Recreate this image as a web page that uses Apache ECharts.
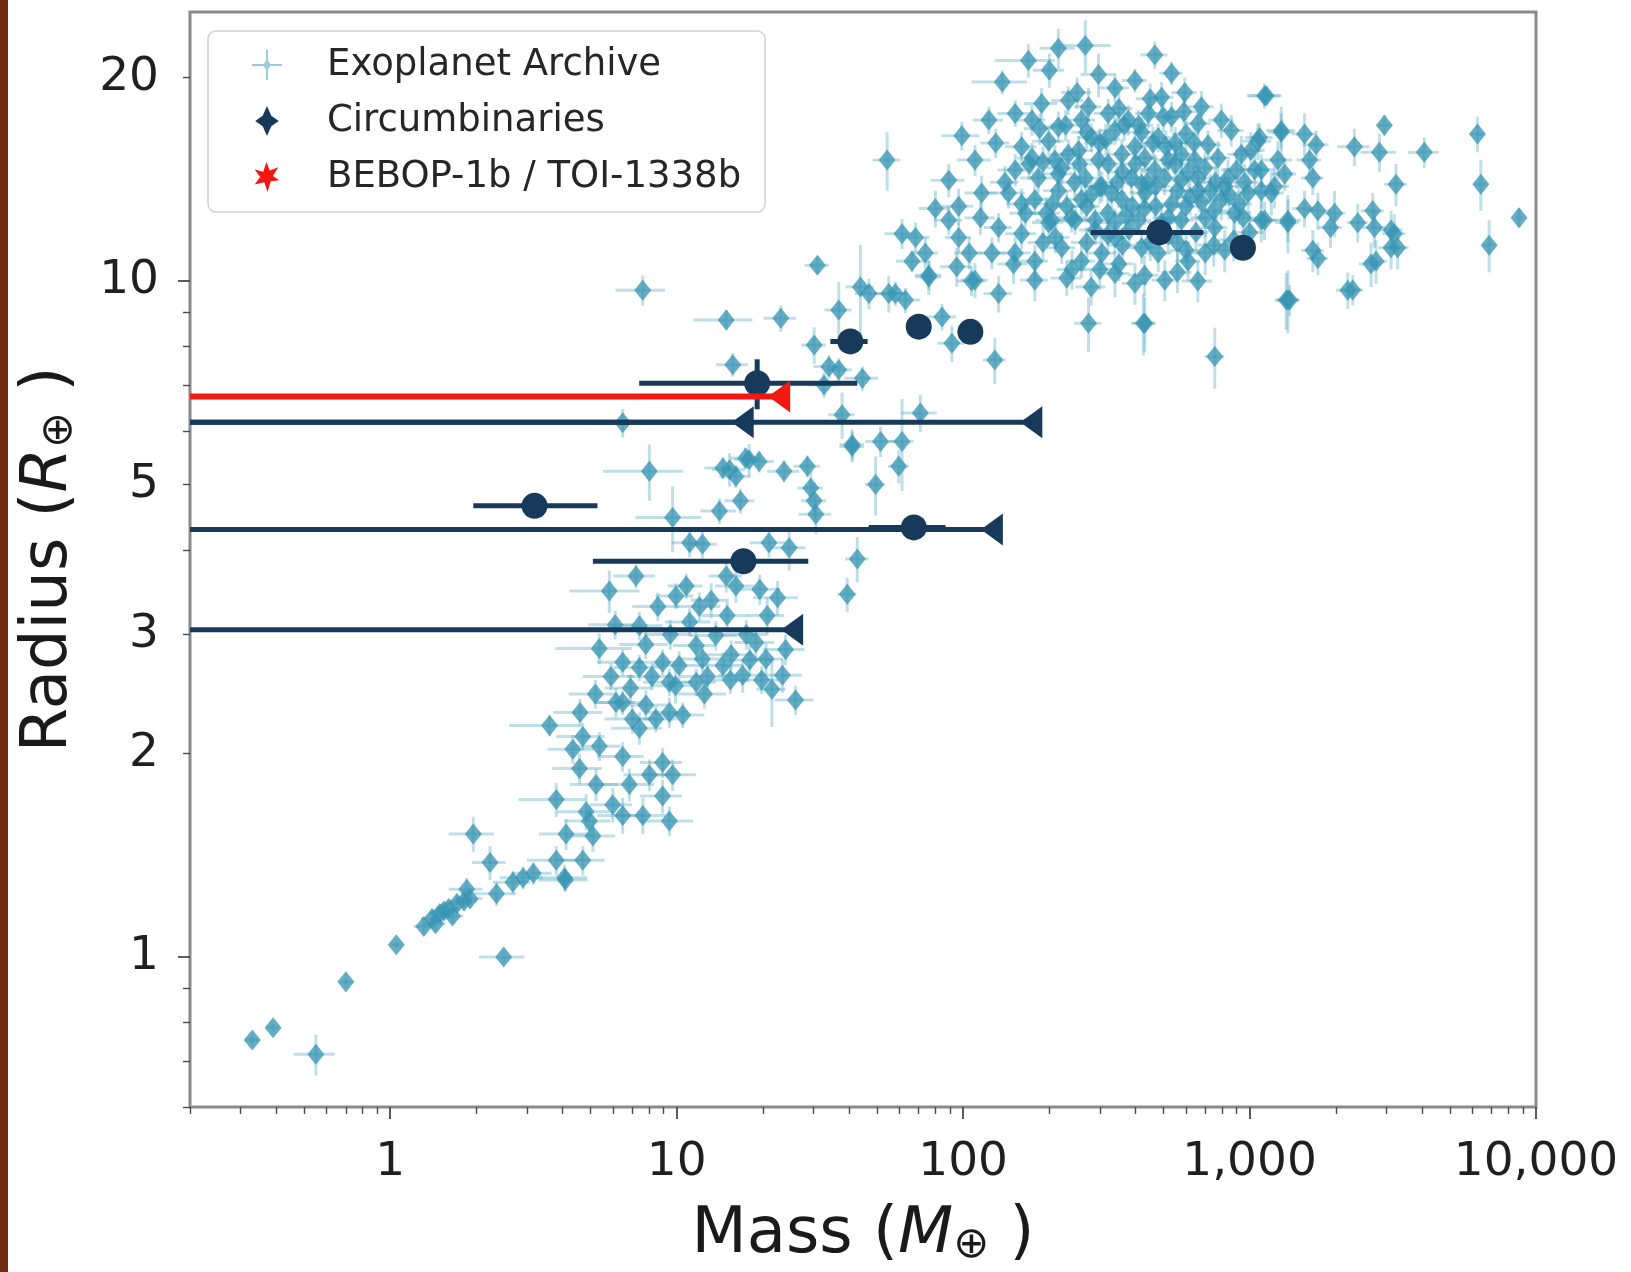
<!DOCTYPE html>
<html><head><meta charset="utf-8">
<script src="https://cdn.jsdelivr.net/npm/echarts@6/dist/echarts.min.js"></script>
<style>
html,body{margin:0;padding:0;background:#fff;}
#chart{position:absolute;left:0;top:0;width:1631px;height:1272px;}
#strip{position:absolute;left:0;top:0;width:8px;height:1272px;background:#6f2a10;}
</style>
</head><body><div id="chart"></div><div id="strip"></div>
<script>
// ---- axis ticks / labels ----
const xLabelTicks = [1, 10, 100, 1000, 10000];
const xMinorTicks = [0.2,0.3,0.4,0.5,0.6,0.7,0.8,0.9, 2,3,4,5,6,7,8,9, 20,30,40,50,60,70,80,90, 200,300,400,500,600,700,800,900, 2000,3000,4000,5000,6000,7000,8000,9000];
const yLabelTicks = [1, 2, 3, 5, 10, 20];
const yMajorTicks = [1, 10];
const yMinorTicks = [0.6,0.7,0.8,0.9, 2,3,4,5,6,7,8,9, 20];

// ---- Exoplanet Archive: [mass, radius, massErr, radiusErr] ----
const exoSmall = [
 [0.33,0.754,0.02,0.01],[0.39,0.786,0.02,0.01],[0.55,0.718,0.09,0.05],[0.70,0.919,0.03,0.01],
 [1.05,1.043,0.04,0.01],[2.49,1.00,0.45,0.02],[1.31,1.11,0.10,0.03],[1.40,1.14,0.12,0.03],
 [1.49,1.16,0.12,0.03],[1.60,1.18,0.15,0.03],[1.71,1.20,0.15,0.04],[1.81,1.21,0.2,0.04],
 [1.65,1.15,0.15,0.03],[1.44,1.12,0.12,0.03],[1.90,1.22,0.2,0.04],[1.54,1.17,0.15,0.03],
 [1.85,1.26,0.25,0.05],[2.35,1.24,0.4,0.05],[1.95,1.52,0.35,0.09],[2.23,1.38,0.3,0.08],
 [2.91,1.31,0.5,0.05],[2.68,1.29,0.4,0.05],[3.16,1.33,0.5,0.05],[4.09,1.30,0.8,0.05],
 [3.60,2.20,1.0,0.08],[4.70,2.12,0.9,0.1],[4.34,2.03,0.8,0.1],[5.37,2.05,1.0,0.1],
 [6.48,1.98,1.2,0.1],[4.58,1.90,0.9,0.1],[5.23,1.80,1.0,0.1],[6.84,1.80,1.5,0.1],
 [8.93,1.94,1.5,0.1],[8.03,1.86,1.5,0.1],[9.68,1.86,2.0,0.1],[8.93,1.73,1.5,0.1],
 [3.80,1.71,1.0,0.1],[4.83,1.64,1.0,0.1],[4.96,1.59,0.9,0.08],[5.98,1.68,1.0,0.1],
 [6.48,1.62,1.2,0.1],[7.62,1.62,1.5,0.1],[9.43,1.59,2.0,0.08],[4.11,1.52,0.8,0.08],
 [5.10,1.51,1.0,0.08],[3.80,1.39,0.8,0.07],[4.70,1.39,0.9,0.07],[4.06,1.31,0.8,0.06],
 [6.14,2.38,1.0,0.12],[7.81,2.36,1.5,0.12],[9.43,2.30,1.5,0.12],[7.41,2.18,1.5,0.12],
 [9.91,2.52,1.8,0.15],[21.5,2.49,2.5,0.3],[26.0,2.40,4.0,0.12],[15.4,2.57,2.5,0.12],
 [19.8,2.57,3.0,0.12]
];
const exoMid = [
 [8.03,5.23,2.5,0.5],[14.5,5.29,2.0,0.2],[16.1,5.14,2.0,0.2],[17.4,5.47,2.0,0.2],
 [19.4,5.41,2.5,0.2],[23.7,5.23,3.0,0.2],[28.6,5.32,3.0,0.2],[29.4,4.94,3.0,0.3],
 [30.2,4.73,3.0,0.3],[30.6,4.52,4.0,0.3],[41.0,5.73,4.0,0.3],[49.5,5.00,4.0,0.5],
 [16.7,4.73,2.0,0.2],[14.1,4.57,2.0,0.2],[9.68,4.47,2.5,0.5],[11.1,4.10,1.5,0.2],
 [12.3,4.08,1.5,0.2],[21.0,4.10,3.0,0.2],[24.7,4.03,3.5,0.3],[42.7,3.88,4.0,0.3],
 [39.4,3.44,3.0,0.2],[7.21,3.66,1.2,0.15],[5.82,3.48,1.6,0.25],[9.94,3.42,1.5,0.15],
 [10.8,3.54,1.5,0.15],[13.2,3.37,2.0,0.2],[14.9,3.66,2.0,0.2],[16.1,3.54,2.5,0.2],
 [22.5,3.40,4.0,0.2],[20.7,3.20,3.0,0.2],[7.41,3.09,1.5,0.15],[11.1,3.13,2.0,0.15],
 [13.7,2.99,2.5,0.15],[18.9,2.92,3.0,0.15],[5.37,2.86,1.6,0.15],[6.48,2.73,1.2,0.12],
 [7.41,2.68,1.4,0.12],[8.93,2.73,1.6,0.12],[11.7,2.89,2.0,0.15],[12.3,2.76,2.0,0.12],
 [14.5,2.70,2.5,0.12],[17.0,2.61,3.0,0.15],[20.5,2.76,3.0,0.15],[23.4,2.61,4.0,0.15],
 [11.7,2.55,2.0,0.12],[9.43,2.55,1.8,0.12],[6.48,2.38,1.2,0.1],[8.46,2.25,1.6,0.1],
 [10.5,2.28,2.0,0.1],
 [5.9,2.6,1.2,0.12],[6.9,2.5,1.3,0.12],[8.2,2.6,1.5,0.12],[10.2,2.7,2.0,0.13],[12.8,2.6,2.5,0.13],
 [15.5,2.8,3.0,0.14],[18.0,2.75,3.5,0.14],[7.8,2.9,1.5,0.14],[9.5,3.0,1.8,0.15],[12.0,3.3,2.2,0.16],
 [15.0,3.2,2.8,0.16],[17.5,3.0,3.2,0.15],[8.6,3.3,1.6,0.16],[6.1,3.1,1.2,0.15],[19.5,3.5,3.5,0.18],
 [24.0,2.85,4.0,0.15],[5.2,2.45,1.0,0.12],[4.6,2.3,0.9,0.11],[7.0,2.25,1.4,0.11],[12.5,2.45,2.4,0.12],
 [7.61,9.69,1.5,0.5],[14.9,8.76,3.5,0.3],[23.1,8.81,3.0,0.4],[31.0,10.55,3.0,0.3],
 [36.8,9.06,4.0,0.9],[43.8,9.80,5.0,1.5],[46.9,9.58,5.0,0.5],[58.0,9.58,6.0,0.4],
 [62.9,9.37,8.0,0.4],[75.9,10.2,8.0,0.5],[107,10.0,12,0.5],[91.4,8.09,10,0.5],
 [129,7.64,12,0.6],[84.4,8.85,10,0.4],[66.3,10.7,8,0.4],[30.2,8.04,3,0.5],
 [15.7,7.52,2,0.3],[34.0,7.47,4,0.3],[36.8,7.39,4,0.3],[32.7,7.02,4,0.3],
 [44.5,7.18,6,0.3],[6.48,6.17,1.6,0.3],[37.8,6.34,4,0.5],[70.9,6.38,10,0.4],
 [41.0,5.69,4,0.3],[51.5,5.79,6,0.3],[61.2,5.79,6,0.9],[59.6,5.32,5,0.3],
 [15.3,5.26,2,0.3],[17.9,5.44,2,0.3]
];
const exoGiant = [
 [169,21.2,40,1.2],[215,22.1,30,1.5],[267,22.3,60,2.0],[467,21.6,50,1.0],[534,20.3,50,0.8],
 [1128,18.8,150,0.8],[137,19.7,30,0.8],[297,20.2,40,1.5],[99,16.4,15,0.8],[123,17.3,15,0.8],
 [54.3,15.1,6,1.5],[152,17.7,20,0.8],[188,18.3,25,1.0],[233,18.5,30,0.9],[274,18.1,30,1.2],
 [339,19.3,40,1.0],[398,19.8,40,0.8],[493,18.7,50,1.0],[594,19.0,60,1.0],[679,18.1,70,1.0],
 [160,15.8,20,0.8],[199,16.1,25,0.8],[233,15.4,30,0.8],[281,16.3,30,0.8],[339,16.7,40,0.8],
 [398,15.8,40,0.8],[480,16.3,50,0.8],[578,15.4,60,0.9],[716,15.9,80,0.8],[863,16.7,90,0.9],
 [1069,16.1,120,1.0],[1290,16.7,150,1.0],
 [152,14.6,20,0.8],[183,14.2,25,0.7],[221,14.7,25,0.8],[267,14.2,30,0.7],[321,14.9,35,0.8],
 [387,14.2,40,0.7],[467,14.6,50,0.8],[578,14.1,60,0.8],[698,14.7,70,0.8],[841,14.2,90,0.9],
 [1042,14.6,120,1.0],[1256,15.1,150,1.0],
 [144,13.5,20,0.7],[178,13.2,20,0.7],[215,13.6,25,0.7],[259,13.2,30,0.7],[305,13.8,35,0.7],
 [358,13.2,40,0.7],[431,13.5,50,0.7],[534,13.0,60,0.8],[661,13.6,70,0.8],[797,13.2,90,0.9],
 [988,13.5,110,1.0],[1223,13.8,150,1.0],
 [89.1,14.1,12,0.8],[96.5,12.9,12,0.8],[116,13.5,15,0.8],[110,15.1,15,0.8],
 [133,12.0,15,0.6],[160,11.75,20,0.6],[199,12.2,25,0.6],[246,12.3,30,0.6],[289,11.9,35,0.6],
 [339,11.6,40,0.6],[578,12.3,60,0.7],[756,12.0,80,0.8],[1361,12.3,150,0.9],[1191,13.5,130,1.0],
 [61.2,11.75,8,0.6],[68.2,11.6,8,0.6],[73.8,11.0,8,0.6],[89.1,12.3,10,0.6],[96.5,11.6,10,0.6],
 [105,11.0,12,0.6],[126,11.0,15,0.6],[152,11.0,20,0.6],[178,10.7,20,0.6],[221,11.2,25,0.6],
 [259,10.7,30,0.6],[305,11.0,35,0.6],[339,10.26,40,0.8],[398,9.92,40,0.7],[506,10.03,50,0.7],
 [610,10.7,60,0.7],[819,11.1,80,0.8],
 [55.0,9.58,6,0.6],[75.9,10.14,8,0.6],[110,10.03,12,0.6],[133,9.58,15,0.6],[178,10.03,20,0.7],
 [274,8.66,30,0.8],[431,8.66,40,0.8],[1361,9.37,120,1.0],
 [174,15.2,20,0.8],[209,15.1,25,0.8],[253,15.6,30,0.8],[297,15.1,35,0.8],[358,15.4,40,0.8],
 [431,15.2,45,0.8],[520,15.1,55,0.8],[644,15.1,70,0.9],[776,15.2,80,0.9],[936,15.4,100,1.0],
 [165,12.6,20,0.6],[204,12.3,25,0.6],[239,12.4,30,0.6],[289,12.3,35,0.6],[339,12.2,40,0.6],
 [409,12.3,45,0.6],[493,12.2,55,0.7],[887,12.6,100,0.8],[1099,12.3,120,0.9],
 [174,17.3,20,0.9],[215,16.9,25,0.9],[259,17.3,30,0.9],[321,17.7,35,0.9],[377,17.3,40,0.9],
 [443,17.7,45,0.9],[534,17.5,55,0.9],[661,17.1,70,0.9],[797,17.3,80,1.0],
 [130,16.0,15,0.8],[190,15.0,22,0.8],[245,14.0,30,0.8],[300,16.0,35,0.8],[360,14.5,40,0.8],
 [420,13.9,50,0.8],[470,12.9,55,0.8],[550,14.9,60,0.8],[620,13.3,70,0.8],[700,12.4,80,0.8],
 [760,14.0,90,0.8],[920,13.0,100,0.9],[140,14.0,16,0.8],[205,13.0,25,0.7],[270,12.9,30,0.7],
 [330,13.5,40,0.7],[390,12.9,45,0.7],[450,11.4,50,0.7],[560,11.4,60,0.7],[650,11.8,70,0.8],
 [190,11.4,22,0.7],[240,10.4,28,0.7],[300,10.4,35,0.7],[150,10.6,18,0.7],[360,11.3,40,0.7],
 [480,11.0,55,0.7],[700,11.0,80,0.8],[115,12.4,14,0.7],[95,10.5,12,0.7],[80,12.8,10,0.8],
 [420,16.6,50,0.9],[500,17.5,55,0.9],[600,16.5,65,0.9],[250,19.0,30,1.0],[350,18.0,40,1.0],
 [450,18.6,50,1.0],[200,20.5,25,1.2],[550,16.0,60,0.9],
 [185,16.8,22,0.9],[228,17.0,27,0.9],[270,16.6,32,0.9],[315,16.2,38,0.9],[365,17.0,44,0.9],
 [410,17.0,50,0.9],[460,16.0,55,0.9],[510,15.8,60,0.9],[590,17.8,70,1.0],[640,16.0,75,0.9],
 [170,14.9,20,0.8],[215,14.4,26,0.8],[255,14.9,30,0.8],[300,13.8,36,0.8],[345,14.0,41,0.8],
 [400,14.9,48,0.8],[440,14.0,53,0.8],[505,14.2,60,0.8],[560,13.6,67,0.8],[610,14.5,73,0.8],
 [660,14.2,80,0.8],[730,13.6,88,0.8],[820,13.8,98,0.9],[900,14.6,108,0.9],[960,14.0,115,0.9],
 [1010,15.6,120,1.0],
 [160,13.0,19,0.7],[195,12.6,23,0.7],[230,12.9,28,0.7],[280,13.4,34,0.7],[320,12.6,38,0.7],
 [370,12.5,44,0.7],[430,12.8,52,0.7],[470,13.8,56,0.7],[520,12.4,62,0.7],[600,12.9,72,0.7],
 [680,13.1,82,0.8],[750,12.7,90,0.8],[850,13.4,102,0.8],[950,12.4,114,0.9],[1000,11.8,120,0.9],
 [210,11.6,25,0.6],[270,11.4,32,0.6],[320,11.7,38,0.6],[380,11.9,46,0.6],[420,11.2,50,0.6],
 [520,11.7,62,0.7],[600,11.1,72,0.7],[750,11.3,90,0.8],[880,11.5,105,0.8],
 [230,10.1,28,0.6],[280,9.8,34,0.6],[350,10.6,42,0.6],[430,10.2,52,0.7],[560,10.3,67,0.7],[660,10.0,80,0.7],
 [426,8.66,40,0.9],[756,7.73,60,0.8],[1343,9.37,120,0.9],[2203,9.69,200,0.6],[2655,10.6,250,0.8],
 [3119,11.2,300,0.8],[3119,11.9,300,0.8],
 [1144,18.8,150,0.6],[1084,16.3,120,0.8],[1290,16.6,130,1.5],[1556,16.5,150,1.2],[1708,15.9,180,0.8],
 [1620,15.1,160,0.8],[2323,15.8,300,1.0],[2840,15.5,400,1.0],[2955,17.0,150,0.6],[4074,15.5,500,0.8],
 [6247,16.5,300,1.0],[6418,13.9,300,1.2],[8727,12.4,200,0.4],[6861,11.3,300,1.0],[3245,13.9,300,1.0],
 [1099,14.6,120,0.8],[1099,13.6,120,0.8],[1326,14.4,130,0.8],[1663,14.2,150,0.8],[1129,12.3,120,0.8],
 [1361,12.2,130,1.2],[1556,12.8,150,0.8],[1732,12.7,160,0.8],[1917,12.0,180,0.8],[1980,12.6,180,1.0],
 [1663,11.1,150,0.8],[1732,10.8,150,0.6],[2386,12.2,200,0.8],[2692,12.7,250,0.8],[2728,12.0,250,0.8],
 [3202,11.75,300,0.8],[3289,11.2,300,0.8],[2764,10.7,250,0.8],[2292,9.70,200,0.5],[1380,9.37,120,0.5]
];

// ---- Circumbinaries: [mass, radius, massErrLow, massErrHigh, radiusErr] ----
const circumbinaries = [
 [484, 11.8, 205, 205, 0],
 [948, 11.2, 0, 0, 0],
 [70.0, 8.56, 0, 0, 0],
 [106, 8.41, 0, 0, 0],
 [40.4, 8.14, 6, 6, 0],
 [19.1, 7.06, 11.7, 23.6, 0.6],
 [3.19, 4.65, 1.24, 2.1, 0],
 [67.3, 4.32, 20.5, 19.5, 0],
 [17.1, 3.85, 12, 11.7, 0]
];
// upper mass limits: [massUpperLimit, radius]
const circumbinaryLimits = [
 [173, 6.18],
 [17.0, 6.18],
 [126, 4.29],
 [25.3, 3.05]
];
const bebopLimits = [
 [22.8, 6.75]
];

const exoAll = exoSmall.concat(exoMid, exoGiant);

const NAVY = '#173a5b';
const RED = '#f41812';
const EXO = 'rgba(56,150,180,0.78)';
const EXO_ERR = 'rgba(85,168,195,0.38)';
const FONT = 'DejaVu Sans';

function errRender(color, width) {
  return function (params, api) {
    const m = api.value(0), r = api.value(1);
    const dmLo = api.value(2), dmHi = api.value(3), dr = api.value(4);
    const kids = [];
    if (dmLo > 0 || dmHi > 0) {
      const a = api.coord([Math.max(m - dmLo, 1e-4), r]);
      const b = api.coord([m + dmHi, r]);
      kids.push({type: 'line', shape: {x1: a[0], y1: a[1], x2: b[0], y2: b[1]}, style: {stroke: color, lineWidth: width}});
    }
    if (dr > 0) {
      const c = api.coord([m, r + dr]);
      const d = api.coord([m, Math.max(r - dr, 1e-4)]);
      kids.push({type: 'line', shape: {x1: c[0], y1: c[1], x2: d[0], y2: d[1]}, style: {stroke: color, lineWidth: width}});
    }
    return {type: 'group', children: kids};
  };
}
function limitRender(color, width) {
  return function (params, api) {
    const p = api.coord([api.value(0), api.value(1)]);
    return {type: 'line', shape: {x1: params.coordSys.x, y1: p[1], x2: p[0], y2: p[1]}, style: {stroke: color, lineWidth: width}};
  };
}

const exoErrData = exoAll.map(d => [d[0], d[1], d[2], d[2], d[3]]);

const chart = echarts.init(document.getElementById('chart'), null, {renderer: 'canvas'});
const axisCommonX = {type: 'log', logBase: 10, min: 0.2, max: 10000, gridIndex: 0, position: 'bottom', splitLine: {show: false}, axisLine: {show: false}};
const axisCommonY = {type: 'log', logBase: 10, min: 0.6, max: 25, gridIndex: 0, position: 'left', splitLine: {show: false}, axisLine: {show: false}};
const nameRich = {
  t: {fontFamily: FONT, fontSize: 64, color: '#1a1a1a', lineHeight: 64, verticalAlign: 'top'},
  i: {fontFamily: FONT, fontSize: 64, fontStyle: 'italic', color: '#1a1a1a', lineHeight: 64, verticalAlign: 'top'},
  s: {fontFamily: FONT, fontSize: 43, color: '#1a1a1a', lineHeight: 43, verticalAlign: 'bottom', padding: [30, 0, 0, 0]}
};

chart.setOption({
  animation: false,
  backgroundColor: '#ffffff',
  grid: {left: 187, top: 12, width: 1349, height: 1097, show: true, borderColor: '#8a8a8a', borderWidth: 3, backgroundColor: '#fff', containLabel: false},
  legend: {
    left: 208, top: 31, orient: 'vertical',
    padding: [14, 24, 15, 44],
    itemWidth: 30, itemHeight: 30, itemGap: 16,
    backgroundColor: 'rgba(255,255,255,0.85)', borderColor: '#d2d2d2', borderWidth: 1.5, borderRadius: 8,
    selectedMode: false,
    textStyle: {fontFamily: FONT, fontSize: 37, color: '#262626', lineHeight: 40, padding: [0, 0, 0, 40]},
    data: [
      {name: 'Exoplanet Archive', icon: 'path://M0,14 L30,14 L30,16 L0,16 Z M14,0 L16,0 L16,30 L14,30 Z M15,9 L19,15 L15,21 L11,15 Z', itemStyle: {color: 'rgba(90,170,195,0.6)', opacity: 1}},
      {name: 'Circumbinaries', icon: 'path://M15,1 L19,10 L26,15 L19,20 L15,29 L11,20 L4,15 L11,10 Z', itemStyle: {color: NAVY, opacity: 1}},
      {name: 'BEBOP-1b / TOI-1338b', icon: 'path://M15,1 L18,9 L26,6 L21,14 L27,18 L19,19 L16,29 L13,20 L4,22 L9,15 L4,8 L12,10 Z', itemStyle: {color: RED, opacity: 1}}
    ]
  },
  xAxis: [
    Object.assign({}, axisCommonX, {
      name: '{t|Mass (}{i|M}{s|⊕}{t| )}',
      nameLocation: 'middle', nameGap: 96,
      nameTextStyle: {rich: nameRich},
      axisTick: {show: true, customValues: xLabelTicks, length: 12, lineStyle: {color: '#4a4a4a', width: 1.8}},
      axisLabel: {show: true, customValues: xLabelTicks, margin: 32, fontFamily: FONT, fontSize: 47, color: '#1f1f1f', hideOverlap: false, showMinLabel: true, showMaxLabel: true,
        formatter: v => Math.round(v).toLocaleString('en-US')}
    }),
    Object.assign({}, axisCommonX, {
      axisTick: {show: true, customValues: xMinorTicks, length: 7, lineStyle: {color: '#4a4a4a', width: 1.4}},
      axisLabel: {show: false}
    })
  ],
  yAxis: [
    Object.assign({}, axisCommonY, {
      name: '{t|Radius (}{i|R}{s|⊕}{t| )}',
      nameLocation: 'middle', nameGap: 109, nameRotate: 90,
      nameTextStyle: {rich: nameRich},
      axisTick: {show: true, customValues: yMajorTicks, length: 12, lineStyle: {color: '#4a4a4a', width: 1.8}},
      axisLabel: {show: true, customValues: yLabelTicks, margin: 31, fontFamily: FONT, fontSize: 47, color: '#1f1f1f', hideOverlap: false, showMinLabel: true, showMaxLabel: true,
        formatter: v => String(Math.round(v))}
    }),
    Object.assign({}, axisCommonY, {
      axisTick: {show: true, customValues: yMinorTicks, length: 7, lineStyle: {color: '#4a4a4a', width: 1.4}},
      axisLabel: {show: false}
    })
  ],
  series: [
    {type: 'custom', name: 'exoErr', xAxisIndex: 0, yAxisIndex: 0, clip: true, z: 2,
      renderItem: errRender(EXO_ERR, 3), data: exoErrData, encode: {x: 0, y: 1}, silent: true},
    {type: 'scatter', name: 'Exoplanet Archive', xAxisIndex: 0, yAxisIndex: 0, z: 3,
      symbol: 'diamond', symbolSize: [17, 21], itemStyle: {color: EXO, opacity: 1},
      data: exoAll.map(d => [d[0], d[1]]), silent: true},
    {type: 'custom', name: 'circErr', xAxisIndex: 0, yAxisIndex: 0, clip: true, z: 5,
      renderItem: errRender(NAVY, 5), data: circumbinaries, encode: {x: 0, y: 1}, silent: true},
    {type: 'custom', name: 'circLim', xAxisIndex: 0, yAxisIndex: 0, clip: true, z: 5,
      renderItem: limitRender(NAVY, 5), data: circumbinaryLimits, encode: {x: 0, y: 1}, silent: true},
    {type: 'scatter', name: 'Circumbinaries', xAxisIndex: 0, yAxisIndex: 0, z: 6,
      symbol: 'circle', symbolSize: 26, itemStyle: {color: NAVY, opacity: 1},
      data: circumbinaries.map(d => [d[0], d[1]]), silent: true},
    {type: 'scatter', name: 'circLimMarker', xAxisIndex: 0, yAxisIndex: 0, z: 6,
      symbol: 'triangle', symbolRotate: 90, symbolSize: [32, 22], itemStyle: {color: NAVY, opacity: 1},
      data: circumbinaryLimits, silent: true},
    {type: 'custom', name: 'bebopLim', xAxisIndex: 0, yAxisIndex: 0, clip: true, z: 7,
      renderItem: limitRender(RED, 6), data: bebopLimits, encode: {x: 0, y: 1}, silent: true},
    {type: 'scatter', name: 'BEBOP-1b / TOI-1338b', xAxisIndex: 0, yAxisIndex: 0, z: 8,
      symbol: 'triangle', symbolRotate: 90, symbolSize: [32, 22], itemStyle: {color: RED, opacity: 1},
      data: bebopLimits, silent: true}
  ]
});
</script></body></html>
